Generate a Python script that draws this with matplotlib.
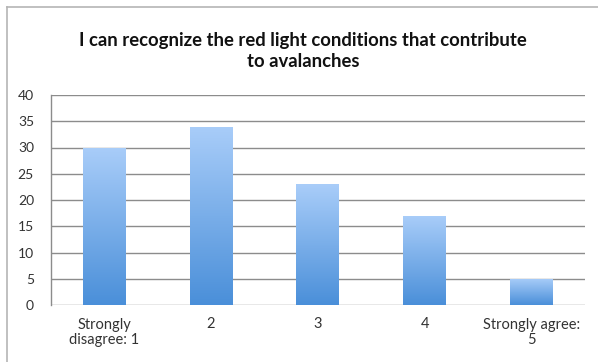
import numpy as np
import matplotlib
matplotlib.use("Agg")
import matplotlib.pyplot as plt
from matplotlib.colors import LinearSegmentedColormap
from matplotlib.patches import Rectangle

# survey responses per Likert level
categories = ["Strongly\ndisagree: 1", "2", "3", "4", "Strongly agree:\n5"]
counts = [30, 34, 23, 17, 5]
yticks = [0, 5, 10, 15, 20, 25, 30, 35, 40]
title = "I can recognize the red light conditions that contribute\nto avalanches"

plt.rcParams["font.family"] = ["Lato", "DejaVu Sans"]

W, H = 598, 362
fig = plt.figure(figsize=(W / 100, H / 100), dpi=100)
fig.patch.set_facecolor("white")

# outer chart frame (open at the right and bottom)
frame_col = "#b5b5b5"
fig.add_artist(plt.Line2D([7 / W, 7 / W], [0, 1 - 7 / H], color=frame_col, lw=1.2,
                          transform=fig.transFigure))
fig.add_artist(plt.Line2D([7 / W, 1], [1 - 7 / H, 1 - 7 / H], color=frame_col, lw=1.2,
                          transform=fig.transFigure))

ax = fig.add_axes([50.7 / W, (H - 305) / H, (585 - 50.7) / W, 210 / H])

x = np.arange(len(categories))
bar_w = 0.4
bars = ax.bar(x, counts, width=bar_w, color="none", edgecolor="none", zorder=3)

# vertical gradient fill for each bar
cmap = LinearSegmentedColormap.from_list("blues", ["#4a8fd9", "#a9cdf9"])
grad = np.linspace(0, 1, 256).reshape(-1, 1)
for rect in bars:
    bx, bw, bh = rect.get_x(), rect.get_width(), rect.get_height()
    im = ax.imshow(grad, cmap=cmap, origin="lower", aspect="auto",
                   extent=(bx, bx + bw, 0, bh), zorder=3)
    clip = Rectangle((bx, 0), bw, bh, transform=ax.transData)
    im.set_clip_path(clip)

ax.set_xlim(-0.5, len(categories) - 0.5)
ax.set_ylim(0, 40)
ax.set_yticks(yticks)
ax.set_xticks(x)
ax.set_xticklabels(categories, fontsize=10.5, color="#333333", linespacing=1.15)
ax.tick_params(axis="y", labelsize=10, colors="#333333", length=0, pad=12)
ax.tick_params(axis="x", length=0, pad=9)

ax.grid(True, axis="y", color="#8c8c8c", linewidth=1.0, zorder=0)
ax.set_axisbelow(True)
for side in ["top", "right", "bottom"]:
    ax.spines[side].set_visible(False)
ax.spines["left"].set_color("#8c8c8c")
ax.spines["left"].set_linewidth(1.0)

fig.text(0.507, 1 - 51 / H, title, ha="center", va="center", fontsize=13.3,
         fontweight="bold", color="#111111", linespacing=1.3)

fig.savefig("out.png", dpi=100)
